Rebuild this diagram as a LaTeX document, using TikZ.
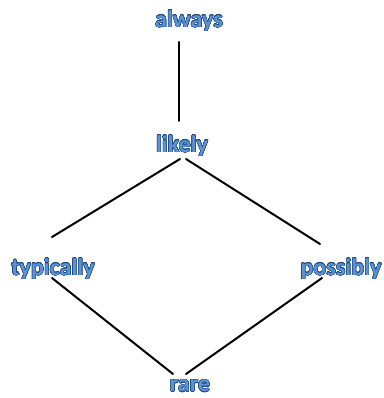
\documentclass[tikz,border=0pt]{standalone}
\usepackage{fontspec}
\setmainfont{Carlito}
\usepackage[copies]{contour}
\contourlength{0.3pt}
\contournumber{24}
\definecolor{wordfill}{RGB}{92,146,214}
\definecolor{wordline}{RGB}{31,73,125}

\tikzset{
    word/.style={inner sep=0pt, font=\fontsize{18}{20}\selectfont\bfseries},
    link/.style={line width=1.5pt, line cap=round}
}
\newcommand{\wordart}[1]{\contour{wordline}{\textcolor{wordfill}{#1}}}

\begin{document}
\begin{tikzpicture}[x=0.75pt, y=-0.75pt]

    % Frame
    \useasboundingbox (0, 0) rectangle (383, 398);

    % Words
    \node [word] (always) at (189, 21) {\wordart{always}};
    \node [word] (likely) at (182, 146) {\wordart{likely}};
    \node [word] (typically) at (53, 269) {\wordart{typically}};
    \node [word] (possibly) at (341, 269) {\wordart{possibly}};
    \node [word] (rare) at (190, 386) {\wordart{rare}};

    % Line ends
    \coordinate (alwaysbottom) at (179, 42);
    \coordinate (likelytop) at (179, 121);
    \coordinate (likelyleft) at (180, 159);
    \coordinate (likelyright) at (186, 159);
    \coordinate (typicallytop) at (52, 237);
    \coordinate (typicallybottom) at (52, 278);
    \coordinate (possiblytop) at (320, 244);
    \coordinate (possiblybottom) at (322, 278);
    \coordinate (rareleft) at (173, 374);
    \coordinate (rareright) at (186, 374);

    % Links
    \draw [link] (alwaysbottom) -- (likelytop);
    \draw [link] (likelyleft) -- (typicallytop);
    \draw [link] (likelyright) -- (possiblytop);
    \draw [link] (typicallybottom) -- (rareleft);
    \draw [link] (possiblybottom) -- (rareright);

\end{tikzpicture}
\end{document}
